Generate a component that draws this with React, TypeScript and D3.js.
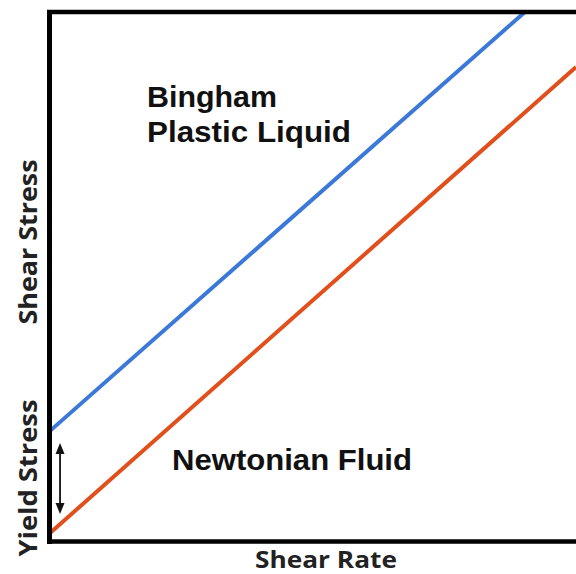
import React from "react";
import * as d3 from "d3";

const shearRate = [0, 10];
const newtonianStress = [0.15, 8.96];
const binghamRate = [0, 9.03];
const binghamStress = [2.08, 10];
const yieldArrow = { x: 0.2, top: 1.86, bottom: 0.52 };

const W = 576;
const H = 574;

export default function App() {
  const x = d3.scaleLinear().domain([0, 10]).range([49.5, 576]);
  const y = d3.scaleLinear().domain([0, 10]).range([541.5, 12]);
  const line = d3
    .line<[number, number]>()
    .x((d) => x(d[0]))
    .y((d) => y(d[1]));
  const newton: [number, number][] = shearRate.map((r, i) => [r, newtonianStress[i]]);
  const bingham: [number, number][] = binghamRate.map((r, i) => [r, binghamStress[i]]);
  const ax = x(yieldArrow.x);
  const aTop = y(yieldArrow.top);
  const aBot = y(yieldArrow.bottom);
  const labelFont = "'Open Sans', sans-serif";
  const textFont = "'Liberation Sans', Arial, sans-serif";
  return (
    <svg
      width={W}
      height={H}
      style={{ position: "absolute", left: 0, top: 0, background: "#fff" }}
    >
      <defs>
        <clipPath id="plot">
          <rect x={x(0)} y={y(10)} width={x(10) - x(0)} height={y(0) - y(10)} />
        </clipPath>
      </defs>
      <g clipPath="url(#plot)">
        <path d={line(bingham) || ""} stroke="#3b78d8" strokeWidth={4} fill="none" />
        <path d={line(newton) || ""} stroke="#e04f1c" strokeWidth={4} fill="none" />
      </g>
      {/* frame */}
      <line x1={x(0) - 2.5} x2={W} y1={y(10)} y2={y(10)} stroke="#000" strokeWidth={4.5} />
      <line x1={x(0)} x2={x(0)} y1={y(10) - 2} y2={y(0) + 2.5} stroke="#000" strokeWidth={5} />
      <line x1={x(0) - 2.5} x2={W} y1={y(0)} y2={y(0)} stroke="#000" strokeWidth={4.5} />
      {/* yield arrow */}
      <line x1={ax} x2={ax} y1={aTop + 8} y2={aBot - 8} stroke="#111" strokeWidth={1.8} />
      <path d={`M${ax},${aTop} L${ax - 4.5},${aTop + 11} L${ax + 4.5},${aTop + 11} Z`} fill="#111" />
      <path d={`M${ax},${aBot} L${ax - 4.5},${aBot - 11} L${ax + 4.5},${aBot - 11} Z`} fill="#111" />
      {/* annotations */}
      <text x={147} y={107} fontFamily={textFont} fontWeight={700} fontSize={30} fill="#111"
        textLength={130} lengthAdjust="spacingAndGlyphs">
        Bingham
      </text>
      <text x={147} y={142} fontFamily={textFont} fontWeight={700} fontSize={30} fill="#111"
        textLength={204} lengthAdjust="spacingAndGlyphs">
        Plastic Liquid
      </text>
      <text x={172} y={470} fontFamily={textFont} fontWeight={700} fontSize={30} fill="#111"
        textLength={240} lengthAdjust="spacingAndGlyphs">
        Newtonian Fluid
      </text>
      {/* axis titles */}
      <text
        x={326}
        y={568}
        textAnchor="middle"
        fontFamily={labelFont}
        fontWeight={700}
        fontSize={23}
        fill="#222"
        textLength={142}
        lengthAdjust="spacingAndGlyphs"
      >
        Shear Rate
      </text>
      <text
        transform={`translate(37,242) rotate(-90)`}
        textAnchor="middle"
        fontFamily={labelFont}
        fontWeight={700}
        fontSize={25}
        fill="#222"
        textLength={165}
        lengthAdjust="spacingAndGlyphs"
      >
        Shear Stress
      </text>
      <text
        transform={`translate(37,478) rotate(-90)`}
        textAnchor="middle"
        fontFamily={labelFont}
        fontWeight={700}
        fontSize={25}
        fill="#222"
        textLength={157}
        lengthAdjust="spacingAndGlyphs"
      >
        Yield Stress
      </text>
    </svg>
  );
}
